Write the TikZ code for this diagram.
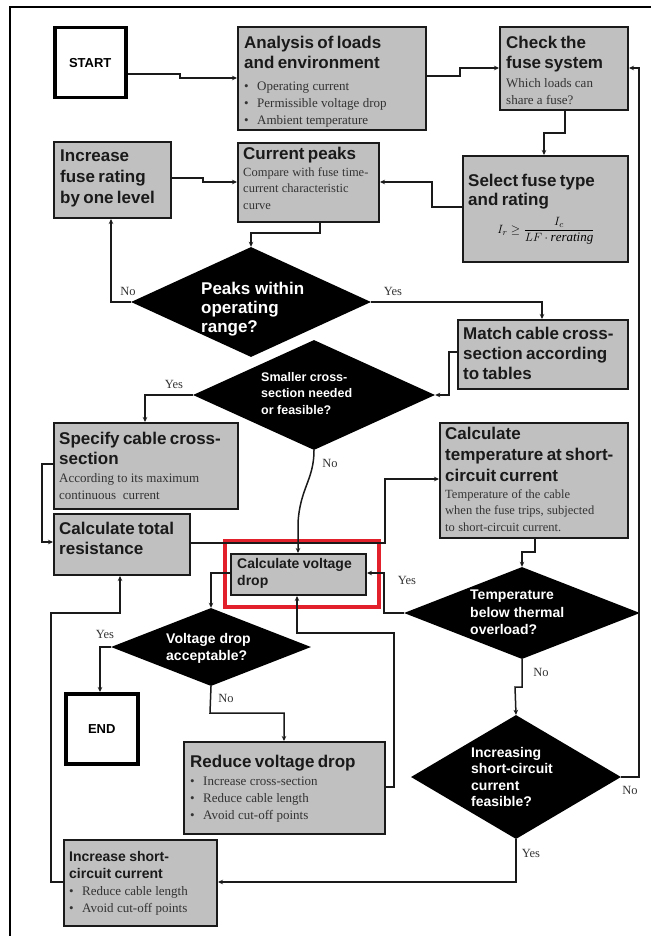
\documentclass[tikz,border=0pt]{standalone}
\usepackage{fontspec}
\setmainfont{Liberation Serif}
\setsansfont{Liberation Sans}
\usetikzlibrary{arrows.meta,shapes.geometric}

\definecolor{boxgray}{HTML}{C0C0C0}
\definecolor{ink}{HTML}{1A1A1A}
\definecolor{bodyink}{HTML}{333333}
\definecolor{hilite}{HTML}{E2202C}

% type sizes (1pt = 1px of the drawing)
\newcommand\ttl{\sffamily\bfseries\fontsize{17}{20}\selectfont}
\newcommand\ttlsm{\sffamily\bfseries\fontsize{14}{17}\selectfont}
\newcommand\bdy{\rmfamily\fontsize{13}{17}\selectfont\color{bodyink}}
\newcommand\bdys{\rmfamily\fontsize{12.5}{16.5}\selectfont\color{bodyink}}
\newcommand\itemdot{\makebox[13pt][l]{\textbullet}}

\tikzset{
  gbox/.style={draw=ink, line width=2pt, fill=boxgray, inner sep=0pt, anchor=north west},
  term/.style={draw=black, line width=3.5pt, fill=white, inner sep=0pt, anchor=north west},
  hlbox/.style={draw=hilite, line width=3.5pt, inner sep=0pt, anchor=north west},
  dec/.style={diamond, fill=black, inner sep=0pt},
  txt/.style={anchor=north west, inner sep=0pt, align=left, text=ink},
  dtxt/.style={anchor=north west, inner sep=0pt, align=left, text=white},
  lbl/.style={inner sep=0pt, font=\rmfamily\fontsize{12.5}{14}\selectfont, text=bodyink},
  conn/.style={draw=ink, line width=1.5pt, -{Stealth[length=5pt,width=4.5pt]}},
}

\begin{document}
\begin{tikzpicture}[x=1pt,y=-1pt]
\useasboundingbox (0,0) rectangle (651,936);

% page frame
\draw[line width=2pt] (10,936) -- (10,7) -- (651,7);

% ---------- boxes ----------
\node[term, minimum width=71pt, minimum height=70pt] (start) at (53,26) {};
\node[inner sep=0pt, font=\sffamily\bfseries\fontsize{13}{14}\selectfont] (start-t) at (start.center) {START};

\node[gbox, minimum width=188pt, minimum height=103pt] (analysis) at (237,26) {};
\node[txt, text width=180pt] (analysis-t) at (244,36)
  {{\ttl Analysis of loads\\and environment\par}\vspace{5pt}
   {\bdy\itemdot Operating current\par\itemdot Permissible voltage drop\par\itemdot Ambient temperature\par}};

\node[gbox, minimum width=128pt, minimum height=83pt] (check) at (499,26) {};
\node[txt, text width=122pt] (check-t) at (506,36)
  {{\ttl Check the\\fuse system\par}\vspace{2pt}
   {\bdy Which loads can\\share a fuse?\par}};

\node[gbox, minimum width=117pt, minimum height=76pt] (incfuse) at (53,141) {};
\node[txt, text width=112pt] (incfuse-t) at (60,150)
  {{\sffamily\bfseries\fontsize{17}{21}\selectfont Increase\\fuse rating\\by one level\par}};

\node[gbox, minimum width=141pt, minimum height=79pt] (curpeaks) at (237,142) {};
\node[txt, text width=136pt] (curpeaks-t) at (243,147)
  {{\ttl Current peaks\par}
   {\bdys Compare with fuse time-\\current characteristic\\curve\par}};

\node[gbox, minimum width=165pt, minimum height=106pt] (select) at (462,155) {};
\node[txt, text width=160pt] (select-t) at (468,174)
  {{\sffamily\bfseries\fontsize{17}{19}\selectfont Select fuse type\\and rating\par}};
\node[inner sep=0pt, font=\fontsize{13}{15}\selectfont] (select-f) at (546,231)
  {$I_r \geq \displaystyle\frac{I_c}{LF\cdot \mathit{rerating}}$};

\node[gbox, minimum width=170pt, minimum height=69pt] (match) at (457,319) {};
\node[txt, text width=165pt] (match-t) at (463,327)
  {{\ttl Match cable cross-\\section according\\to tables\par}};

\node[gbox, minimum width=184pt, minimum height=86pt] (specify) at (53,422) {};
\node[txt, text width=180pt] (specify-t) at (59,432)
  {{\ttl Specify cable cross-\\section\par}\vspace{1pt}
   {\bdy According to its maximum\\continuous\ \ current\par}};

\node[gbox, minimum width=188pt, minimum height=115pt] (calctemp) at (439,422) {};
\node[txt, text width=184pt] (calctemp-t) at (445,427)
  {{\sffamily\bfseries\fontsize{17}{21}\selectfont Calculate\\temperature at short-\\circuit current\par}
   {\bdys Temperature of the cable\\when the fuse trips,\ subjected\\to short-circuit\ current.\par}};

\node[gbox, minimum width=136pt, minimum height=61pt] (calctotal) at (53,513) {};
\node[txt, text width=132pt] (calctotal-t) at (59,522)
  {{\ttl Calculate total\\resistance\par}};

\node[gbox, minimum width=135pt, minimum height=41pt] (calcvd) at (230,553) {};
\node[txt, text width=130pt] (calcvd-t) at (237,558)
  {{\ttlsm Calculate voltage\\drop\par}};
\node[hlbox, minimum width=154pt, minimum height=66pt] (focus) at (223,539) {};

\node[term, minimum width=72pt, minimum height=70pt] (end) at (64,692) {};
\node[inner sep=0pt, font=\sffamily\bfseries\fontsize{13}{14}\selectfont] (end-t) at (end.center) {END};

\node[gbox, minimum width=201pt, minimum height=92pt] (reduce) at (183,741) {};
\node[txt, text width=196pt] (reduce-t) at (190,755)
  {{\ttl Reduce voltage drop\par}\vspace{1pt}
   {\bdy\itemdot Increase cross-section\par\itemdot Reduce cable length\par\itemdot Avoid cut-off points\par}};

\node[gbox, minimum width=153pt, minimum height=86pt] (incsc) at (63,839) {};
\node[txt, text width=148pt] (incsc-t) at (69,851)
  {{\sffamily\bfseries\fontsize{14}{17}\selectfont Increase short-\\circuit current\par}
   {\bdy\itemdot Reduce cable length\par\itemdot Avoid cut-off points\par}};

% ---------- decisions ----------
\node[dec, minimum width=240pt, minimum height=110pt] (dpeaks) at (251,302) {};
\node[dtxt, font=\sffamily\bfseries\fontsize{17}{19}\selectfont] (dpeaks-t) at (201,282)
  {Peaks within\\operating\\range?};

\node[dec, minimum width=242pt, minimum height=110pt] (dsmall) at (314,395) {};
\node[dtxt, font=\sffamily\bfseries\fontsize{12.5}{16.5}\selectfont] (dsmall-t) at (261,372)
  {Smaller cross-\\section needed\\or feasible?};

\node[dec, minimum width=236pt, minimum height=92pt] (dtemp) at (522,613) {};
\node[dtxt, font=\sffamily\bfseries\fontsize{14}{17.5}\selectfont] (dtemp-t) at (470,590)
  {Temperature\\below thermal\\overload?};

\node[dec, minimum width=200pt, minimum height=78pt] (dvd) at (211,647) {};
\node[dtxt, font=\sffamily\bfseries\fontsize{14}{17}\selectfont] (dvd-t) at (166,633)
  {Voltage drop\\acceptable?};

\node[dec, minimum width=210pt, minimum height=124pt] (dinc) at (516,777) {};
\node[dtxt, font=\sffamily\bfseries\fontsize{14}{16.5}\selectfont] (dinc-t) at (471,747)
  {Increasing\\short-circuit\\current\\feasible?};

% ---------- branch labels ----------
\node[lbl] (l-peaks-no)  at (128,291) {No};
\node[lbl] (l-peaks-yes) at (393,291) {Yes};
\node[lbl] (l-small-yes) at (174,384) {Yes};
\node[lbl] (l-small-no)  at (330,463) {No};
\node[lbl] (l-temp-yes)  at (407,580) {Yes};
\node[lbl] (l-temp-no)   at (541,672) {No};
\node[lbl] (l-vd-yes)    at (105,634) {Yes};
\node[lbl] (l-vd-no)     at (226,698) {No};
\node[lbl] (l-inc-no)    at (630,790) {No};
\node[lbl] (l-inc-yes)   at (531,853) {Yes};

% ---------- connectors ----------
\draw[conn] (start.east |- 0,74) -- (180,74) -- (180,78) -- (analysis.west |- 0,78);
\draw[conn] (analysis.east |- 0,76) -- (460,76) -- (460,68) -- (check.west |- 0,68);
\draw[conn] (check.south -| 565,0) -- (565,133) -- (544,133) -- (select.north -| 544,0);
\draw[conn] (incfuse.east |- 0,178) -- (203,178) -- (203,182) -- (curpeaks.west |- 0,182);
\draw[conn] (select.west |- 0,207) -- (432,207) -- (432,182) -- (curpeaks.east |- 0,182);
\draw[conn] (curpeaks.south -| 320,0) -- (320,233) -- (251,233) -- (dpeaks.north);
\draw[conn] (dpeaks.west) -- (111,302) -- (incfuse.south -| 111,0);
\draw[conn] (dpeaks.east) -- (542,302) -- (match.north -| 542,0);
\draw[conn] (match.west |- 0,352) -- (449,352) -- (449,395) -- (dsmall.east);
\draw[conn] (dsmall.west) -- (145,395) -- (specify.north -| 145,0);
\draw[conn] (dsmall.south) .. controls (314,480) and (300,488) .. (298,523) -- (calcvd.north -| 298,0);
\draw[conn] (specify.west |- 0,464) -- (42,464) -- (42,542) -- (calctotal.west |- 0,542);
\draw[conn] (calctotal.east |- 0,543) -- (385,543) -- (385,479) -- (calctemp.west |- 0,479);
\draw[conn] (calctemp.south -| 535,0) -- (535,552) -- (522,552) -- (dtemp.north);
\draw[conn] (dtemp.west) -- (384,613) -- (384,573) -- (calcvd.east |- 0,573);
\draw[conn] (calcvd.west |- 0,573) -- (211,573) -- (dvd.north);
\draw[conn] (dvd.west) -- (100,647) -- (end.north -| 100,0);
\draw[conn] (dvd.south) -- (210,713) -- (284,713) -- (reduce.north -| 284,0);
\draw[conn] (reduce.east |- 0,787) -- (394,787) -- (394,633) -- (297,633) -- (calcvd.south -| 297,0);
\draw[conn] (dtemp.south) -- (522,687) -- (515,687) -- (dinc.north);
\draw[conn] (dinc.east) -- (639,777) -- (639,68) -- (check.east |- 0,68);
\draw[conn] (dinc.south) -- (516,882) -- (incsc.east |- 0,882);
\draw[conn] (incsc.west |- 0,882) -- (51,882) -- (51,613) -- (120,613) -- (calctotal.south -| 120,0);
\end{tikzpicture}
\end{document}
